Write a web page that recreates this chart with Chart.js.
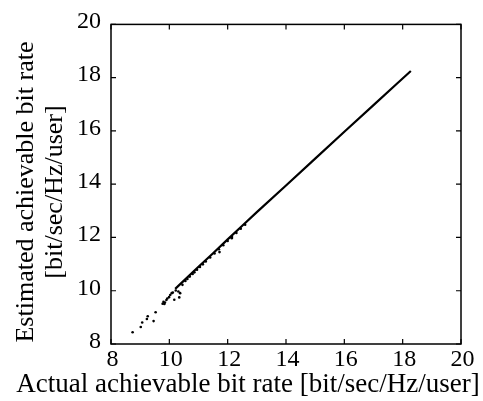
<!DOCTYPE html>
<html>
<head>
<meta charset="utf-8">
<script src="https://cdn.jsdelivr.net/npm/chart.js@4/dist/chart.umd.min.js"></script>
<style>
  html, body { margin: 0; padding: 0; background: #fff; }
  #wrap { width: 483px; height: 401px; }
</style>
</head>
<body>
<div id="wrap"><canvas id="c" width="483" height="401"></canvas></div>
<script>
// Axis settings
const xTitle = 'Actual achievable bit rate [bit/sec/Hz/user]';
const yTitle = ['Estimated achievable bit rate', '[bit/sec/Hz/user]'];
const tickValues = [8, 10, 12, 14, 16, 18, 20];

// Dense band of users (read along the diagonal)
const bandActual    = [10.20, 10.50, 11.00, 11.50, 12.00, 12.50, 13.00, 14.00, 15.00, 16.00, 17.00, 17.80, 18.28];
const bandEstimated = [10.07, 10.38, 10.90, 11.41, 11.93, 12.44, 12.95, 13.95, 14.96, 15.97, 16.97, 17.77, 18.25];

// Individual (sparse / spread) users
const sparseActual    = [8.74, 9.02, 9.07, 9.23, 9.26, 9.46, 9.53, 9.77, 9.80, 9.83, 9.85, 9.90, 9.93, 9.99, 10.03, 10.08, 10.12, 10.17, 10.22, 10.31, 10.34, 10.37, 10.45, 10.55, 10.62, 10.70, 10.80, 10.86, 10.95, 11.05, 11.15, 11.25, 11.40, 11.55, 11.70, 11.85, 12.00, 12.15, 12.30, 12.45, 12.60, 11.72, 12.14];
const sparseEstimated = [8.44, 8.64, 8.81, 8.94, 9.04, 8.86, 9.19, 9.51, 9.58, 9.50, 9.56, 9.65, 9.71, 9.76, 9.84, 9.91, 9.93, 9.66, 10.01, 9.97, 9.75, 9.91, 10.22, 10.37, 10.44, 10.53, 10.63, 10.69, 10.79, 10.89, 10.99, 11.10, 11.25, 11.40, 11.56, 11.71, 11.87, 12.02, 12.17, 12.33, 12.48, 11.45, 11.97];

const toPts = (xs, ys) => xs.map((v, i) => ({ x: v, y: ys[i] }));
const FONT = "'Liberation Serif', 'Times New Roman', serif";

const framePlugin = {
  id: 'frame',
  afterDatasetsDraw(chart) {
    const { ctx, chartArea: a, scales: { x, y } } = chart;
    ctx.save();
    ctx.strokeStyle = '#000';
    ctx.lineWidth = 1.5;
    ctx.strokeRect(a.left, a.top, a.right - a.left, a.bottom - a.top);
    ctx.lineWidth = 1.2;
    const L = 5;
    ctx.beginPath();
    tickValues.forEach(v => {
      const px = x.getPixelForValue(v);
      ctx.moveTo(px, a.bottom); ctx.lineTo(px, a.bottom - L);
      ctx.moveTo(px, a.top); ctx.lineTo(px, a.top + L);
      const py = y.getPixelForValue(v);
      ctx.moveTo(a.left, py); ctx.lineTo(a.left + L, py);
      ctx.moveTo(a.right, py); ctx.lineTo(a.right - L, py);
    });
    ctx.stroke();

    // axis titles (drawn unclipped so they can extend past the plot width)
    ctx.fillStyle = '#000';
    ctx.font = '27px ' + FONT;
    ctx.textAlign = 'center';
    ctx.textBaseline = 'alphabetic';
    ctx.fillText(xTitle, 248, 392);

    ctx.save();
    ctx.translate(0, 192);
    ctx.rotate(-Math.PI / 2);
    ctx.font = '26px ' + FONT;
    ctx.textBaseline = 'middle';
    ctx.fillText(yTitle[0], 0, 26);
    ctx.fillText(yTitle[1], 0, 55);
    ctx.restore();
    ctx.restore();
  }
};

new Chart(document.getElementById('c'), {
  type: 'scatter',
  data: {
    datasets: [
      {
        data: toPts(bandActual, bandEstimated),
        showLine: true,
        borderColor: '#000',
        borderWidth: 2.2,
        pointRadius: 0,
        tension: 0
      },
      {
        data: toPts(sparseActual, sparseEstimated),
        showLine: false,
        backgroundColor: '#000',
        borderColor: '#000',
        borderWidth: 0,
        pointRadius: 1.3
      }
    ]
  },
  options: {
    responsive: false,
    animation: false,
    devicePixelRatio: 1,
    layout: { padding: { top: 24, right: 22, left: 0, bottom: 0 } },
    plugins: { legend: { display: false }, tooltip: { enabled: false } },
    scales: {
      x: {
        type: 'linear', min: 8, max: 20,
        afterBuildTicks(s) { s.ticks = tickValues.map(v => ({ value: v })); },
        afterFit(s) { s.height = 57; },
        grid: { display: false, drawTicks: false },
        border: { display: false },
        ticks: { color: '#000', font: { family: FONT, size: 24 }, padding: 1, maxRotation: 0, labelOffset: 1.5 },
        title: { display: false }
      },
      y: {
        type: 'linear', min: 8, max: 20,
        afterBuildTicks(s) { s.ticks = tickValues.map(v => ({ value: v })); },
        afterFit(s) { s.width = 111; },
        grid: { display: false, drawTicks: false },
        border: { display: false },
        ticks: { color: '#000', font: { family: FONT, size: 24 }, padding: 10, labelOffset: -2.5 },
        title: { display: false }
      }
    }
  },
  plugins: [framePlugin]
});
</script>
</body>
</html>
